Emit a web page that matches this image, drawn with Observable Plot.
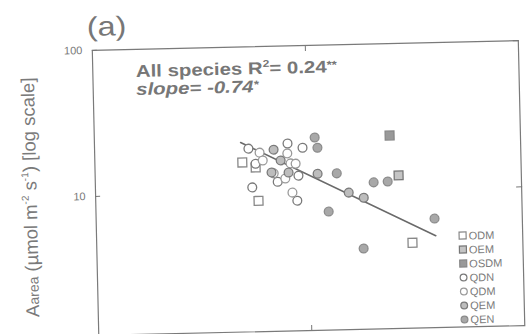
<!DOCTYPE html>
<html>
<head>
<meta charset="utf-8">
<script src="https://cdn.jsdelivr.net/npm/d3@7"></script>
<script src="https://cdn.jsdelivr.net/npm/@observablehq/plot@0.6"></script>
<style>
  body { margin: 0; background: #fff; font-family: "Liberation Sans", Arial, sans-serif; }
  #fig { position: relative; width: 529px; height: 334px; transform: rotate(-1.3deg); transform-origin: 50% 50%; }
  #fig > svg.overlay { position: absolute; left: 0; top: 0; pointer-events: none; }
  #chart { position: absolute; left: 0; top: 0; }
  #legend { position: absolute; left: 456px; top: 233px; font-size: 11px; color: #7a7a7a; line-height: 14px; }
  #legend .row { display: flex; align-items: center; height: 14px; }
  #legend svg { margin-right: 1px; }
</style>
</head>
<body>
<div id="fig">
  <div id="chart"></div>
  <svg class="overlay" width="529" height="334" font-family="Liberation Sans, Arial, sans-serif">
    <text transform="translate(90,32) scale(1.2,1)" font-size="27" fill="#777">(a)</text>
    <text transform="translate(138,74) scale(1.2,1)" font-size="17" font-weight="bold" fill="#777">All species R<tspan font-size="10" dy="-7">2</tspan><tspan dy="7">= 0.24</tspan><tspan font-size="11" dy="-4">**</tspan></text>
    <text transform="translate(138,92) scale(1.2,1)" font-size="17" font-weight="bold" font-style="italic" fill="#777">slope= -0.74<tspan font-size="11" dy="-4">*</tspan></text>
    <text transform="translate(36,192) rotate(-90)" text-anchor="middle" font-size="18.5" fill="#7a7a7a">A<tspan font-size="14">area</tspan> (µmol m<tspan font-size="10" dy="-8">-2</tspan><tspan dy="8"> s</tspan><tspan font-size="10" dy="-8">-1</tspan><tspan dy="8">) [log scale]</tspan></text>
  </svg>
  <div id="legend"></div>
</div>
<script>
// Photosynthetic rate per area vs. the x variable, one array of [x, y] pairs per group
const odm  = [[34.6, 16.2], [38.2, 8.8], [74.1, 4.3], [37.7, 14.9]];
const oem  = [[71.2, 12.5]];
const osdm = [[69.3, 23.5]];
const qdn  = [[36.1, 20.1], [45.3, 21.5], [48.8, 20.0], [47.7, 12.9], [36.8, 10.9], [47.3, 8.7], [42.8, 11.8], [37.7, 15.8]];
const qdm  = [[38.7, 18.8], [39.4, 16.6], [45.2, 18.4], [45.9, 15.7], [47.1, 15.6], [44.6, 12.4], [46.2, 9.9], [41.9, 13.5]];
const qem  = [[42.0, 19.6], [43.6, 16.5], [45.4, 13.6], [52.2, 13.2], [59.4, 9.7], [62.9, 8.9], [41.4, 13.7]];
const qen  = [[51.7, 23.4], [52.3, 19.9], [56.7, 13.2], [65.3, 11.3], [68.6, 11.4], [54.6, 7.25], [79.4, 6.25], [62.6, 4.0]];

// Fitted regression for all species (end points)
const fitLine = [[34.3, 22.2], [79.6, 4.77]];

const groupNames = ["ODM", "OEM", "OSDM", "QDN", "QDM", "QEM", "QEN"];
const xDomain = [0, 100];
const xTicks = [50];
const yDomain = [1.12, 100];
const yTicks = [10, 100];

const groups = [odm, oem, osdm, qdn, qdm, qem, qen];
const looks = [
  {symbol: "square", r: 5.0, fill: "#fff",  stroke: "#888"},
  {symbol: "square", r: 5.0, fill: "#c4c4c4", stroke: "#777"},
  {symbol: "square", r: 5.0, fill: "#999",  stroke: "#888"},
  {symbol: "circle", r: 4.4, fill: "#fff",  stroke: "#7a7a7a"},
  {symbol: "circle", r: 4.4, fill: "#fff",  stroke: "#9a9a9a"},
  {symbol: "circle", r: 4.4, fill: "#bdbdbd", stroke: "#7a7a7a"},
  {symbol: "circle", r: 4.4, fill: "#a8a8a8", stroke: "#8c8c8c"}
];

const dotMarks = groups.map((g, i) => Plot.dot(g, {
  x: d => d[0], y: d => d[1],
  symbol: looks[i].symbol, r: looks[i].r,
  fill: looks[i].fill, stroke: looks[i].stroke, strokeWidth: 1.3
}));

const chart = Plot.plot({
  width: 529, height: 334,
  marginLeft: 94.5, marginRight: 8.4, marginTop: 46, marginBottom: 3,
  style: {background: "transparent", color: "#777", fontFamily: "Liberation Sans, Arial, sans-serif", fontSize: "11px"},
  x: {domain: xDomain},
  y: {type: "log", domain: yDomain},
  marks: [
    Plot.frame({stroke: "#7a7a7a", strokeWidth: 1.2}),
    Plot.axisY(yTicks, {anchor: "left", tickSize: -5, tickPadding: 15, tickFormat: d => String(d), label: null}),
    Plot.axisY(yTicks, {anchor: "right", tickSize: -6, tickFormat: () => "", label: null}),
    Plot.axisX(xTicks, {anchor: "bottom", tickSize: -5, tickFormat: () => "", label: null}),
    Plot.axisX(xTicks, {anchor: "top", tickSize: -5, tickFormat: () => "", label: null}),
    Plot.line(fitLine, {x: d => d[0], y: d => d[1], stroke: "#6a6a6a", strokeWidth: 1.6}),
    ...dotMarks
  ]
});
document.getElementById("chart").appendChild(chart);

// Group key in the lower right corner of the panel
const legend = document.getElementById("legend");
groupNames.forEach((name, i) => {
  const L = looks[i];
  const row = document.createElement("div");
  row.className = "row";
  const shape = L.symbol === "square"
    ? `<rect x="1.5" y="1.5" width="7" height="7" fill="${L.fill}" stroke="${L.stroke}" stroke-width="1.2"/>`
    : `<circle cx="5" cy="5" r="3.4" fill="${L.fill}" stroke="${L.stroke}" stroke-width="1.2"/>`;
  row.innerHTML = `<svg width="10" height="10">${shape}</svg><span>${name}</span>`;
  legend.appendChild(row);
});
</script>
</body>
</html>
